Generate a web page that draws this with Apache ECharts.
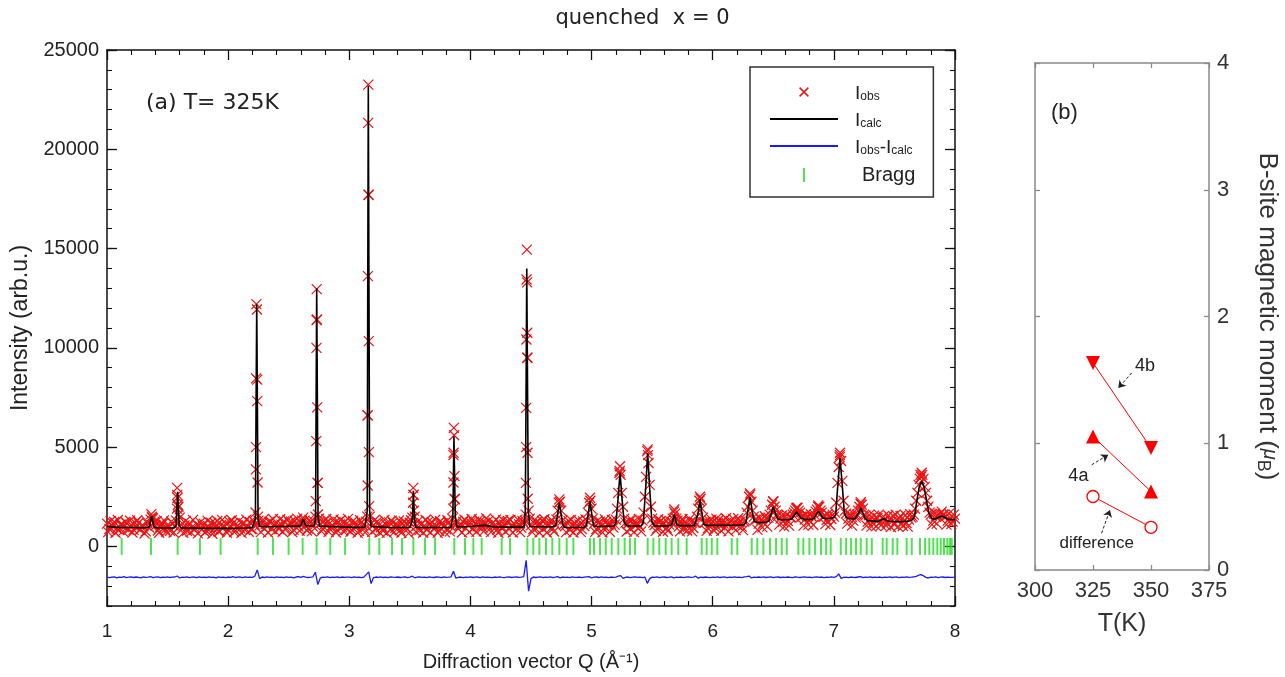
<!DOCTYPE html>
<html><head><meta charset="utf-8">
<script src="https://cdn.jsdelivr.net/npm/echarts@6/dist/echarts.min.js"></script>
<style>html,body{margin:0;padding:0;background:#fff}#c{width:1285px;height:677px}</style>
</head><body><div id="c"></div>
<script>
// ---------- panel (a) data ----------
const qStart = 1.0;
const qStep = 0.02;
// observed intensity, grid A (Q = 1.00, 1.02 ... 8.00)
const obsGrid = [
 1150, 880, 1040, 1230, 900, 820, 1100, 970, 1190, 850,
 1080, 830, 1000, 1180, 870, 1010, 760, 1120, 1350, 1420,
 1050, 800, 990, 1140, 860, 1060, 790, 1180, 1000, 2600,
 1450, 880, 1060, 790, 1150, 960, 830, 1100, 1020, 850,
 1130, 780, 990, 1190, 860, 1040, 760, 1080, 950, 1160,
 840, 1020, 1180, 790, 1060, 900, 1140, 820, 1010, 1220,
 870, 1100, 8400, 1060, 1180, 890, 1030, 1230, 880, 1090,
 1200, 870, 1100, 1260, 900, 1050, 1250, 830, 1150, 1000,
 1180, 1450, 1050, 900, 1220, 1000, 1500, 3200, 1150, 880,
 1130, 1240, 870, 1060, 1190, 820, 1110, 960, 1230, 880,
 1070, 830, 1150, 990, 780, 1210, 900, 1250, 17700, 1150,
 1080, 860, 1170, 960, 790, 1120, 1010, 840, 1200, 930,
 1060, 810, 1140, 970, 880, 1190, 1450, 1500, 1050, 820,
 1170, 960, 830, 1100, 1230, 890, 1020, 790, 1150, 1000,
 860, 1190, 1000, 4600, 1130, 890, 1060, 1240, 920, 1080,
 1200, 880, 1150, 1010, 1270, 950, 1180, 1080, 900, 1160,
 1060, 850, 1190, 930, 1100, 1240, 870, 1040, 1150, 900,
 1120, 950, 1180, 5000, 1800, 1060, 880, 1210, 990, 1130,
 870, 1150, 1030, 1240, 900, 1100, 1800, 2250, 1300, 1010,
 1170, 840, 1060, 1200, 930, 1110, 870, 1030, 1300, 2200,
 1900, 1150, 880, 1190, 1030, 900, 1240, 1070, 1150, 950,
 1350, 2700, 3600, 2000, 1200, 1130, 880, 1200, 1040, 1150,
 970, 1300, 2500, 4800, 3100, 1400, 1080, 900, 1220, 1050,
 1170, 930, 1100, 1250, 1750, 1400, 1000, 1230, 880, 1120,
 1010, 1250, 930, 1200, 1900, 2400, 1450, 1230, 920, 1150,
 1240, 950, 1180, 1060, 1290, 920, 1130, 1250, 990, 1200,
 1080, 1220, 1000, 1250, 1700, 2500, 2250, 1500, 1350, 1150,
 1350, 1180, 1420, 1450, 1800, 2250, 1800, 1550, 1400, 1250,
 1500, 1280, 1460, 1600, 1800, 1950, 1700, 1500, 1350, 1520,
 1300, 1480, 1600, 1850, 2000, 1700, 1500, 1330, 1550, 1380,
 1500, 2200, 4000, 4300, 2300, 1650, 1400, 1560, 1300, 1450,
 1800, 2150, 1900, 1550, 1250, 1400, 1180, 1350, 1430, 1200,
 1450, 1300, 1170, 1380, 1260, 1100, 1330, 1420, 1150, 1290,
 1180, 1350, 1450, 1600, 2300, 3100, 3500, 3400, 2700, 2000,
 1600, 1300, 1500, 1550, 1650, 1600, 1500, 1300, 1450, 1250,
 1400
];
// observed intensity, grid B (Q = 1.01, 1.03 ... 7.99)
const qStartB = 1.01;
const obsGridB = [
 720, 1280, 1010, 690, 1330, 1100, 760, 1240, 880, 1300,
 700, 1190, 1320, 830, 1060, 650, 1260, 940, 1500, 1230,
 1270, 690, 1130, 1310, 740, 960, 1250, 700, 1300, 2000,
 1100, 680, 1290, 1020, 720, 1340, 900, 660, 1210, 1050,
 700, 1300, 890, 640, 1180, 1280, 760, 1340, 1000, 690,
 1250, 1320, 720, 990, 1290, 680, 1160, 1350, 740, 880,
 1280, 5000, 1300, 720, 1350, 1120, 700, 1260, 1380, 760,
 1030, 1370, 740, 860, 1330, 1180, 720, 1300, 1400, 790,
 1300, 1300, 800, 1340, 760, 1250, 11400, 1400, 760, 1290,
 1380, 730, 1010, 1360, 700, 1240, 1330, 770, 1100, 1390,
 740, 1290, 1200, 680, 1320, 1060, 710, 6600, 1500, 740,
 1330, 1250, 700, 990, 1340, 680, 1210, 1300, 720, 1090,
 1310, 690, 1260, 1180, 660, 1320, 2600, 740, 1290, 1100,
 690, 1330, 1240, 700, 1030, 1350, 680, 1270, 1170, 710,
 1320, 760, 1400, 2400, 1300, 1090, 700, 1350, 1250, 730,
 1380, 1250, 740, 1360, 1070, 760, 1410, 1300, 720, 1200,
 1350, 690, 1060, 1320, 740, 1280, 1330, 700, 1100, 1360,
 720, 1280, 1300, 9500, 1400, 720, 1340, 1230, 700, 1300,
 1370, 700, 1080, 1330, 750, 1350, 2200, 1800, 1100, 720,
 1290, 1340, 700, 1000, 1320, 730, 1260, 1360, 1700, 2300,
 1400, 730, 1300, 1250, 700, 1360, 1090, 740, 1330, 1100,
 1900, 3700, 2700, 1400, 750, 1300, 1350, 720, 1150, 1380,
 760, 1700, 3500, 4200, 2000, 1200, 780, 1370, 1280, 740,
 1340, 790, 1250, 1400, 1650, 1300, 760, 1380, 1240, 800,
 1390, 760, 1200, 1500, 2300, 1900, 1200, 780, 1300, 1350,
 800, 1400, 1330, 780, 1150, 1420, 760, 1290, 1390, 820,
 1420, 1250, 820, 1300, 2000, 2600, 1800, 1350, 830, 1440,
 960, 1520, 1000, 1600, 2100, 2000, 1600, 1100, 1560, 1000,
 1600, 1050, 1450, 1700, 1900, 1800, 1500, 1050, 1620, 1100,
 1620, 1080, 1750, 2000, 1800, 1500, 1120, 1640, 1080, 1600,
 1700, 3200, 4600, 3300, 1800, 1150, 1650, 1050, 1600, 1600,
 2000, 2100, 1600, 1050, 1580, 1000, 1550, 1020, 1600, 1060,
 1500, 1050, 1560, 980, 1530, 1600, 1000, 1540, 1030, 1570,
 1000, 1620, 1500, 1900, 2700, 3400, 3600, 3000, 2300, 1700,
 1100, 1650, 1150, 1600, 1750, 1600, 1100, 1650, 1120, 1600
];
// observed points on the sharp peaks [Q, I]
const obsPeakPts = [
 [1.366,1630],[1.372,1450],
 [1.579,2950],[1.582,2450],[1.585,2100],[1.577,1900],[1.589,1600],
 [2.233,12200],[2.238,11930],[2.231,8460],[2.240,7320],[2.229,3880],[2.243,3220],[2.226,1710],[2.247,1500],
 [2.731,12960],[2.733,11430],[2.729,10000],[2.735,7000],[2.727,5300],[2.738,3200],[2.724,2280],[2.741,1610],
 [3.157,23260],[3.156,21330],[3.159,17720],[3.154,13610],[3.161,10340],[3.153,6600],[3.162,4750],[3.152,3070],[3.164,2030],[3.149,1500],
 [3.528,2950],[3.531,2600],[3.526,2200],[3.533,1800],
 [3.863,5970],[3.866,5600],[3.861,4720],[3.868,3540],[3.860,3220],[3.870,2370],[3.858,1900],
 [4.466,14950],[4.463,13440],[4.468,13300],[4.469,10760],[4.462,10420],[4.470,9500],[4.460,6980],[4.471,4720],[4.458,3200],[4.473,2400],[4.456,1600],
 [4.734,2370],[4.987,2450],[5.235,4040],[5.232,3800],[5.463,4890],[5.466,4600],[5.683,1860],[5.895,2500],
 [6.308,2670],[6.500,2280],[6.693,1950],[6.872,2070],[7.051,4720],[7.048,4500],[7.222,2230],[7.725,3710],[7.715,3600]
];
// calculated profile [Q, I]
const calcPts = [
 [1.00,1000],[1.10,960],[1.20,950],[1.30,940],
 [1.33,945],[1.350,990],[1.358,1240],[1.369,1530],[1.380,1240],[1.388,990],[1.41,940],
 [1.50,930],[1.555,935],[1.570,1050],[1.576,1840],[1.583,2750],[1.590,1840],[1.596,1050],[1.61,935],
 [1.75,920],[2.00,910],[2.15,930],[2.20,960],
 [2.215,970],[2.225,1400],[2.230,6600],[2.236,12200],[2.242,6600],[2.247,1400],[2.26,1000],
 [2.40,1000],[2.58,1020],[2.60,1030],[2.612,1250],[2.62,1360],[2.628,1250],[2.64,1050],[2.68,1030],
 [2.712,1040],[2.722,1500],[2.726,7000],[2.731,13000],[2.737,7000],[2.742,1500],[2.755,1020],
 [2.90,990],[3.05,960],[3.13,970],
 [3.138,990],[3.148,1800],[3.152,12100],[3.157,23200],[3.163,12100],[3.168,1800],[3.18,1000],
 [3.35,950],[3.50,950],
 [3.512,955],[3.520,1300],[3.524,1900],[3.529,2800],[3.535,1900],[3.540,1300],[3.55,960],
 [3.70,950],[3.84,960],
 [3.845,965],[3.855,1500],[3.859,3250],[3.864,5550],[3.870,3250],[3.875,1500],[3.89,980],
 [4.00,1000],[4.08,1050],[4.12,1060],[4.20,980],[4.40,970],
 [4.443,985],[4.453,1800],[4.459,7500],[4.465,14000],[4.472,7500],[4.478,1800],[4.49,1000],
 [4.60,990],[4.68,990],
 [4.69,995],[4.705,1070],[4.719,1600],[4.734,2200],[4.749,1600],[4.764,1070],[4.78,960],
 [4.90,950],
 [4.94,960],[4.957,1040],[4.972,1620],[4.987,2280],[5.002,1620],[5.017,1040],[5.04,1000],
 [5.15,1020],
 [5.185,1030],[5.201,1200],[5.218,2370],[5.235,3710],[5.252,2370],[5.269,1200],[5.29,1040],
 [5.38,1030],
 [5.41,1040],[5.428,1250],[5.446,2880],[5.463,4720],[5.480,2880],[5.498,1250],[5.52,1030],
 [5.63,1030],
 [5.645,1040],[5.662,1080],[5.672,1320],[5.683,1610],[5.695,1320],[5.705,1080],[5.725,1050],
 [5.82,1050],
 [5.85,1050],[5.865,1130],[5.88,1700],[5.895,2370],[5.91,1700],[5.925,1130],[5.945,1060],
 [6.10,1060],[6.22,1080],
 [6.255,1090],[6.273,1180],[6.29,1800],[6.308,2500],[6.326,1800],[6.343,1250],[6.37,1200],
 [6.40,1200],
 [6.445,1230],[6.465,1300],[6.482,1650],[6.50,2000],[6.518,1650],[6.535,1400],[6.56,1340],
 [6.60,1340],
 [6.635,1360],[6.655,1400],[6.674,1570],[6.693,1730],[6.712,1570],[6.73,1420],[6.76,1350],
 [6.80,1360],
 [6.82,1370],[6.838,1430],[6.855,1620],[6.872,1780],[6.889,1620],[6.906,1450],[6.93,1400],
 [6.97,1420],
 [7.00,1450],[7.015,1600],[7.031,2950],[7.051,4460],[7.071,2950],[7.087,1650],[7.11,1420],
 [7.15,1400],
 [7.175,1400],[7.19,1500],[7.206,1700],[7.222,1950],[7.238,1700],[7.255,1450],[7.28,1300],
 [7.35,1260],
 [7.37,1270],[7.39,1330],[7.409,1390],[7.43,1330],[7.45,1270],
 [7.55,1250],[7.62,1280],
 [7.645,1330],[7.665,1500],[7.685,2300],[7.705,3000],[7.725,3290],[7.745,3000],[7.765,2300],[7.785,1650],[7.81,1400],
 [7.84,1380],
 [7.855,1400],[7.87,1480],[7.89,1530],[7.91,1480],[7.935,1380],
 [7.96,1360],[8.00,1350]
];
// difference curve (offset), on grid A
const diffGrid = [
 -1540,-1570,-1550,-1530,-1580,-1545,-1560,-1525,-1575,-1550,
 -1535,-1565,-1540,-1555,-1585,-1530,-1560,-1545,-1520,-1570,
 -1550,-1535,-1575,-1545,-1560,-1530,-1565,-1550,-1540,-1490,
 -1590,-1545,-1560,-1530,-1570,-1550,-1540,-1575,-1535,-1555,
 -1545,-1565,-1530,-1560,-1550,-1580,-1535,-1555,-1545,-1570,
 -1540,-1560,-1525,-1565,-1550,-1540,-1575,-1530,-1555,-1545,
 -1560,-1500,-1180,-1620,-1540,-1565,-1530,-1555,-1545,-1570,
 -1535,-1560,-1545,-1570,-1530,-1555,-1550,-1580,-1540,-1520,
 -1560,-1510,-1545,-1565,-1550,-1530,-1300,-1920,-1600,-1545,
 -1560,-1535,-1570,-1545,-1555,-1530,-1575,-1540,-1560,-1550,
 -1545,-1570,-1530,-1560,-1550,-1575,-1540,-1420,-1280,-1870,
 -1570,-1540,-1555,-1530,-1565,-1545,-1575,-1535,-1550,-1560,
 -1540,-1565,-1550,-1530,-1570,-1545,-1500,-1580,-1550,-1535,
 -1560,-1545,-1575,-1530,-1555,-1565,-1540,-1550,-1570,-1535,
 -1555,-1545,-1530,-1250,-1600,-1560,-1540,-1570,-1545,-1555,
 -1535,-1565,-1550,-1540,-1575,-1530,-1560,-1545,-1555,-1570,
 -1540,-1560,-1530,-1555,-1570,-1545,-1535,-1565,-1550,-1540,
 -1560,-1545,-1520,-700,-2250,-1620,-1540,-1565,-1550,-1535,
 -1570,-1545,-1555,-1530,-1565,-1550,-1520,-1580,-1540,-1560,
 -1545,-1570,-1535,-1555,-1560,-1540,-1575,-1550,-1530,-1520,
 -1590,-1550,-1540,-1565,-1530,-1560,-1550,-1575,-1540,-1555,
 -1545,-1500,-1470,-1610,-1560,-1540,-1570,-1550,-1535,-1560,
 -1550,-1570,-1540,-1860,-1620,-1545,-1560,-1535,-1570,-1550,
 -1540,-1565,-1550,-1530,-1580,-1545,-1560,-1540,-1570,-1550,
 -1535,-1560,-1545,-1500,-1600,-1550,-1565,-1540,-1555,-1570,
 -1545,-1560,-1530,-1565,-1550,-1540,-1570,-1545,-1555,-1535,
 -1560,-1545,-1570,-1530,-1520,-1490,-1590,-1545,-1560,-1540,
 -1555,-1535,-1565,-1545,-1530,-1575,-1550,-1540,-1565,-1545,
 -1560,-1540,-1555,-1570,-1530,-1550,-1565,-1545,-1535,-1560,
 -1545,-1570,-1550,-1530,-1560,-1540,-1575,-1545,-1555,-1535,
 -1560,-1520,-1380,-1610,-1560,-1545,-1570,-1540,-1555,-1565,
 -1540,-1520,-1575,-1550,-1560,-1535,-1565,-1545,-1555,-1540,
 -1570,-1545,-1555,-1535,-1565,-1550,-1540,-1575,-1545,-1560,
 -1535,-1560,-1550,-1530,-1510,-1450,-1420,-1480,-1560,-1590,
 -1545,-1560,-1535,-1570,-1550,-1540,-1565,-1545,-1555,-1560,
 -1550
];
// Bragg reflection positions (Q)
const braggQ = [
 1.121,1.363,1.583,1.767,1.938,2.244,2.370,2.499,2.615,2.730,2.843,2.965,3.165,3.248,3.353,3.435,3.529,3.625,
 3.708,3.867,3.955,4.024,4.093,4.258,4.327,4.470,4.519,4.569,4.624,4.676,4.734,4.795,4.850,4.987,5.020,5.070,
 5.117,5.166,5.221,5.273,5.317,5.359,5.463,5.510,5.559,5.612,5.661,5.716,5.785,5.909,5.950,5.992,6.038,6.157,
 6.203,6.322,6.368,6.418,6.473,6.523,6.570,6.611,6.707,6.748,6.798,6.845,6.894,6.936,6.974,7.057,7.101,7.142,
 7.183,7.222,7.271,7.313,7.403,7.436,7.486,7.524,7.601,7.643,7.711,7.753,7.788,7.821,7.854,7.882,7.909,7.937,
 7.959,7.973
];
const yMajorTicks = [0, 5000, 10000, 15000, 20000, 25000];

// ---------- panel (b) data ----------
const tempK = [325, 350];
const moment4b = [1.634, 0.962];
const moment4a = [1.054, 0.619];
const momentDiff = [0.58, 0.337];

// ---------- build ----------
const gridPts = (arr, q0) => arr.map((v, k) => [+(q0 + k * qStep).toFixed(3), v]);
const obsData = gridPts(obsGrid, qStart).concat(gridPts(obsGridB, qStartB)).concat(obsPeakPts);
const diffData = gridPts(diffGrid, qStart);
const braggData = braggQ.map(q => [q, 0]);

const SANS = 'Liberation Sans';
const DJ = 'DejaVu Sans';
const crossPath = 'path://M0,0L10,10M10,0L0,10';
const axCol = '#111';
const grayCol = '#8a8a8a';

const mainX = (pos, labels) => ({
  gridIndex: 0, type: 'value', position: pos, min: 1, max: 8, interval: 1,
  axisLine: { show: true, onZero: false, lineStyle: { color: axCol, width: 1.5 } },
  axisTick: { show: true, inside: true, length: 10, lineStyle: { color: axCol, width: 1.3 } },
  minorTick: { show: true, splitNumber: 5, length: 5, lineStyle: { color: axCol, width: 1.1 } },
  axisLabel: { show: labels, fontSize: 19, color: '#222', fontFamily: SANS, margin: 16 },
  splitLine: { show: false }
});
const mainYMajor = (pos, labels) => ({
  gridIndex: 0, type: 'value', position: pos, min: -3000, max: 25000,
  axisLine: { show: true, onZero: false, lineStyle: { color: axCol, width: 1.5 } },
  axisTick: { show: true, inside: true, length: 10, customValues: yMajorTicks, lineStyle: { color: axCol, width: 1.3 } },
  axisLabel: { show: labels, customValues: yMajorTicks, formatter: v => String(v),
    fontSize: 20, color: '#222', fontFamily: SANS, margin: 8 },
  splitLine: { show: false }
});
const mainYMinor = (pos) => ({
  gridIndex: 0, type: 'value', position: pos, min: -3000, max: 25000, interval: 1000,
  axisLine: { show: false, onZero: false },
  axisTick: { show: true, inside: true, length: 5, lineStyle: { color: axCol, width: 1.1 } },
  axisLabel: { show: false }, splitLine: { show: false }
});
const bX = (pos, labels) => ({
  gridIndex: 1, type: 'value', position: pos, min: 300, max: 375, interval: 25,
  axisLine: { show: true, onZero: false, lineStyle: { color: grayCol, width: 1.5 } },
  axisTick: { show: true, inside: true, length: 5, lineStyle: { color: grayCol, width: 1.3 } },
  axisLabel: { show: labels, fontSize: 22, color: '#333', fontFamily: SANS, margin: 10 },
  splitLine: { show: false }
});
const bY = (pos, labels) => ({
  gridIndex: 1, type: 'value', position: pos, min: 0, max: 4, interval: 1,
  axisLine: { show: true, onZero: false, lineStyle: { color: grayCol, width: 1.5 } },
  axisTick: { show: true, inside: true, length: 5, lineStyle: { color: grayCol, width: 1.3 } },
  axisLabel: { show: labels, fontSize: 22, color: '#333', fontFamily: SANS, margin: 8 },
  splitLine: { show: false }
});

const xAxes = [mainX('bottom', true), mainX('top', false), bX('bottom', true), bX('top', false)];
xAxes[0].name = 'Diffraction vector Q (Å⁻¹)';
xAxes[0].nameLocation = 'middle';
xAxes[0].nameGap = 46;
xAxes[0].nameTextStyle = { fontSize: 20, color: '#222', fontFamily: SANS };
xAxes[2].name = 'T(K)';
xAxes[2].nameLocation = 'middle';
xAxes[2].nameGap = 42;
xAxes[2].nameTextStyle = { fontSize: 25, color: '#333', fontFamily: SANS };

const yAxes = [mainYMajor('left', true), mainYMinor('left'), mainYMajor('right', false), mainYMinor('right'), bY('right', true), bY('left', false)];
yAxes[0].name = 'Intensity (arb.u.)';
yAxes[0].nameLocation = 'middle';
yAxes[0].nameGap = 75;
yAxes[0].nameTextStyle = { fontSize: 23, color: '#222', fontFamily: SANS };
yAxes[4].name = '{t|B-site magnetic moment (}{mu|μ}{sub|B}{t|)}';
yAxes[4].nameLocation = 'middle';
yAxes[4].nameRotate = -90;
yAxes[4].nameGap = 45;
yAxes[4].nameTextStyle = { rich: {
  t: { fontSize: 26, color: '#333', fontFamily: SANS },
  mu: { fontSize: 20, color: '#333', fontFamily: SANS, fontStyle: 'italic', verticalAlign: 'top' },
  sub: { fontSize: 18, color: '#333', fontFamily: SANS, verticalAlign: 'bottom' }
} };

const legendText = {
  'Iobs': '{sp| }{m|I}{s|obs}',
  'Icalc': '{sp| }{m|I}{s|calc}',
  'Iobs-Icalc': '{sp| }{m|I}{s|obs}{m|-I}{s|calc}',
  'Bragg': '{sp2| }{b|Bragg}'
};

const redB = '#ee1111';

const option = {
  animation: false,
  backgroundColor: '#fff',
  title: [
    { text: 'quenched  x = 0', left: 'center', top: 8, padding: 0,
      textStyle: { fontSize: 21, fontWeight: 'normal', color: '#222', fontFamily: DJ } },
    { text: '(a) T= 325K', left: 146, top: 92, padding: 0,
      textStyle: { fontSize: 22, fontWeight: 'normal', color: '#222', fontFamily: DJ } },
    { text: '(b)', left: 1051, top: 102, padding: 0,
      textStyle: { fontSize: 22, fontWeight: 'normal', color: '#222', fontFamily: SANS } }
  ],
  grid: [
    { left: 107, top: 50, width: 848, height: 556 },
    { left: 1035, top: 63, width: 174, height: 507 }
  ],
  legend: {
    data: [
      { name: 'Iobs', icon: 'path://M-3,-3M13,13M0,0L10,10M10,0L0,10', itemStyle: { color: 'rgba(0,0,0,0)', borderColor: redB, borderWidth: 1.5 } },
      { name: 'Icalc', icon: 'path://M0,0L68,0L68,1.8L0,1.8Z', itemStyle: { color: '#000', borderWidth: 0 } },
      { name: 'Iobs-Icalc', icon: 'path://M0,0L68,0L68,1.8L0,1.8Z', itemStyle: { color: '#1a1aff', borderWidth: 0 } },
      { name: 'Bragg', icon: 'path://M0,0L2,0L2,14L0,14Z', itemStyle: { color: '#22dd22', borderWidth: 0 } }
    ],
    orient: 'vertical', left: 750, top: 67,
    padding: [17, 18, 12, 20], itemGap: 8, itemWidth: 68, itemHeight: 14,
    borderColor: '#333', borderWidth: 1.5, backgroundColor: '#fff',
    selectedMode: false,
    formatter: name => legendText[name],
    textStyle: { rich: {
      sp: { width: 12 }, sp2: { width: 19 },
      m: { fontSize: 19, color: '#222', fontFamily: SANS, verticalAlign: 'bottom', lineHeight: 22 },
      s: { fontSize: 12, color: '#222', fontFamily: SANS, verticalAlign: 'bottom', lineHeight: 16 },
      b: { fontSize: 20, color: '#222', fontFamily: SANS, lineHeight: 22 }
    } }
  },
  xAxis: xAxes,
  yAxis: yAxes,
  series: [
    { type: 'scatter', name: 'Iobs', xAxisIndex: 0, yAxisIndex: 0, data: obsData,
      symbol: crossPath, symbolSize: 10, silent: true, z: 2,
      itemStyle: { color: 'rgba(0,0,0,0)', borderColor: redB, borderWidth: 1.2, opacity: 1 } },
    { type: 'line', name: 'Icalc', xAxisIndex: 0, yAxisIndex: 0, data: calcPts,
      symbol: 'none', silent: true, z: 4,
      lineStyle: { color: '#000', width: 1.6 }, itemStyle: { color: '#000' } },
    { type: 'line', name: 'Iobs-Icalc', xAxisIndex: 0, yAxisIndex: 0, data: diffData,
      symbol: 'none', silent: true, z: 3,
      lineStyle: { color: '#1a1aff', width: 1.3 }, itemStyle: { color: '#1a1aff' } },
    { type: 'scatter', name: 'Bragg', xAxisIndex: 0, yAxisIndex: 0, data: braggData,
      symbol: 'rect', symbolSize: [2, 17], silent: true, z: 3,
      itemStyle: { color: '#22dd22' } },
    { type: 'line', name: '4b', xAxisIndex: 2, yAxisIndex: 4,
      data: tempK.map((t, i) => [t, moment4b[i]]),
      symbol: 'triangle', symbolRotate: 180, symbolSize: 14, silent: true,
      lineStyle: { color: '#f00', width: 1 }, itemStyle: { color: '#f00' } },
    { type: 'line', name: '4a', xAxisIndex: 2, yAxisIndex: 4,
      data: tempK.map((t, i) => [t, moment4a[i]]),
      symbol: 'triangle', symbolSize: 14, silent: true,
      lineStyle: { color: '#f00', width: 1 }, itemStyle: { color: '#f00' },
      markLine: {
        silent: true, symbol: ['none', 'arrow'], symbolSize: 7, animation: false,
        lineStyle: { color: '#222', width: 1, type: [3, 2] }, label: { show: false },
        data: [
          [{ coord: [341.7, 1.555] }, { coord: [335.9, 1.436] }],
          [{ coord: [324.4, 0.83] }, { coord: [331.6, 0.909] }],
          [{ coord: [328.7, 0.29] }, { coord: [332.3, 0.474] }]
        ]
      },
      markPoint: {
        silent: true, symbol: 'circle', symbolSize: 1, itemStyle: { color: 'rgba(0,0,0,0)' },
        label: { show: true, position: 'inside', formatter: '{b}', color: '#222', fontFamily: SANS, fontSize: 18 },
        data: [
          { name: '4b', coord: [347.4, 1.607] },
          { name: '4a', coord: [318.7, 0.738] },
          { name: 'difference', coord: [326.6, 0.211], label: { fontSize: 17 } }
        ]
      } },
    { type: 'line', name: 'difference', xAxisIndex: 2, yAxisIndex: 4,
      data: tempK.map((t, i) => [t, momentDiff[i]]),
      symbol: 'circle', symbolSize: 12, silent: true,
      lineStyle: { color: '#f00', width: 1 }, itemStyle: { color: '#fff', borderColor: '#f00', borderWidth: 1.3 } }
  ]
};

const chart = echarts.init(document.getElementById('c'), null, { renderer: 'canvas' });
chart.setOption(option);
</script>
</body></html>
